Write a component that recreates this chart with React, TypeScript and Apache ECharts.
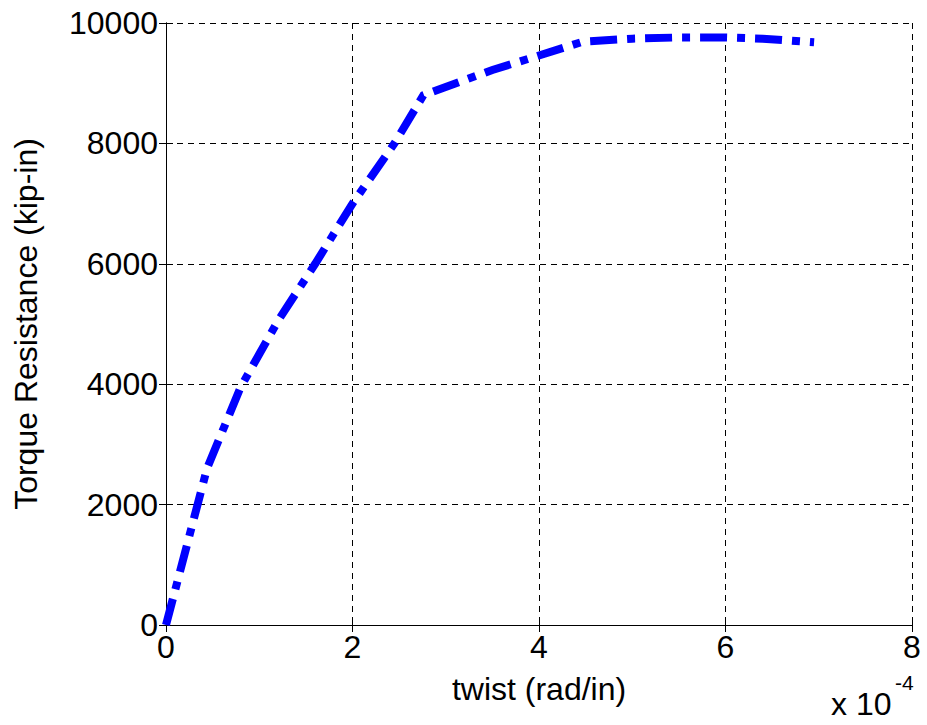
import React, { useEffect, useRef } from "react";
import * as echarts from "echarts";

// twist in units of 1e-4 rad/in
const twist = [0, 0.44, 0.8, 1.2, 1.6, 2.0, 2.45, 2.76, 3.5, 4.0, 4.47, 5.0, 5.5, 6.0, 6.4, 6.95];
const torque = [0, 2600, 3950, 5050, 6000, 7000, 8000, 8800, 9220, 9460, 9690, 9740, 9760, 9760, 9740, 9680];
const xTicks = [0, 2, 4, 6, 8];
const yTicks = [0, 2000, 4000, 6000, 8000, 10000];

const FONT = "Liberation Sans, Arial, sans-serif";

export default function App() {
  const ref = useRef<HTMLDivElement>(null);
  useEffect(() => {
    const chart = echarts.init(ref.current!, null, { renderer: "svg" });
    const data = twist.map((t, i) => [t, torque[i]]);
    const frameAxis = {
      axisLine: { show: true, lineStyle: { color: "#000", width: 1 } },
      axisTick: { show: true, inside: true, length: 7, lineStyle: { color: "#000" } },
      axisLabel: { show: false },
      splitLine: { show: false },
    };
    chart.setOption({
      animation: false,
      backgroundColor: "#fff",
      grid: { left: 166, right: 15, top: 23, bottom: 100, containLabel: false },
      xAxis: [
        {
          type: "value",
          min: xTicks[0],
          max: xTicks[xTicks.length - 1],
          interval: 2,
          name: "twist (rad/in)",
          nameLocation: "middle",
          nameGap: 48,
          nameTextStyle: { fontFamily: FONT, fontSize: 32, color: "#000" },
          axisLine: { show: true, lineStyle: { color: "#000", width: 1 } },
          axisTick: { show: true, inside: true, length: 7, lineStyle: { color: "#000" } },
          axisLabel: { fontFamily: FONT, fontSize: 32, color: "#000", margin: 6 },
          splitLine: { show: true, lineStyle: { color: "#000", type: [6, 5], width: 1 } },
        },
        { type: "value", position: "top", min: 0, max: 8, interval: 2, ...frameAxis },
      ],
      yAxis: [
        {
          type: "value",
          min: yTicks[0],
          max: yTicks[yTicks.length - 1],
          interval: 2000,
          name: "Torque Resistance (kip-in)",
          nameLocation: "middle",
          nameGap: 124,
          nameTextStyle: { fontFamily: FONT, fontSize: 32, color: "#000" },
          axisLine: { show: true, lineStyle: { color: "#000", width: 1 } },
          axisTick: { show: true, inside: true, length: 7, lineStyle: { color: "#000" } },
          axisLabel: { fontFamily: FONT, fontSize: 32, color: "#000", margin: 8, formatter: (v: number) => String(v) },
          splitLine: { show: true, lineStyle: { color: "#000", type: [6, 5], width: 1 } },
        },
        { type: "value", position: "right", min: 0, max: 10000, interval: 2000, ...frameAxis },
      ],
      series: [
        {
          type: "line",
          data,
          showSymbol: false,
          symbol: "none",
          lineStyle: { color: "#0000ff", width: 8, type: [27, 10, 8, 10], cap: "butt", join: "miter" },
        },
      ],
      graphic: [
        {
          type: "text",
          left: 831,
          top: 688,
          style: { text: "x 10", fontFamily: FONT, fontSize: 32, fill: "#000" },
        },
        {
          type: "text",
          left: 895,
          top: 672,
          style: { text: "-4", fontFamily: FONT, fontSize: 21, fill: "#000" },
        },
      ],
    });
    return () => chart.dispose();
  }, []);
  return <div ref={ref} style={{ width: 927, height: 725, position: "absolute", left: 0, top: 0 }} />;
}
